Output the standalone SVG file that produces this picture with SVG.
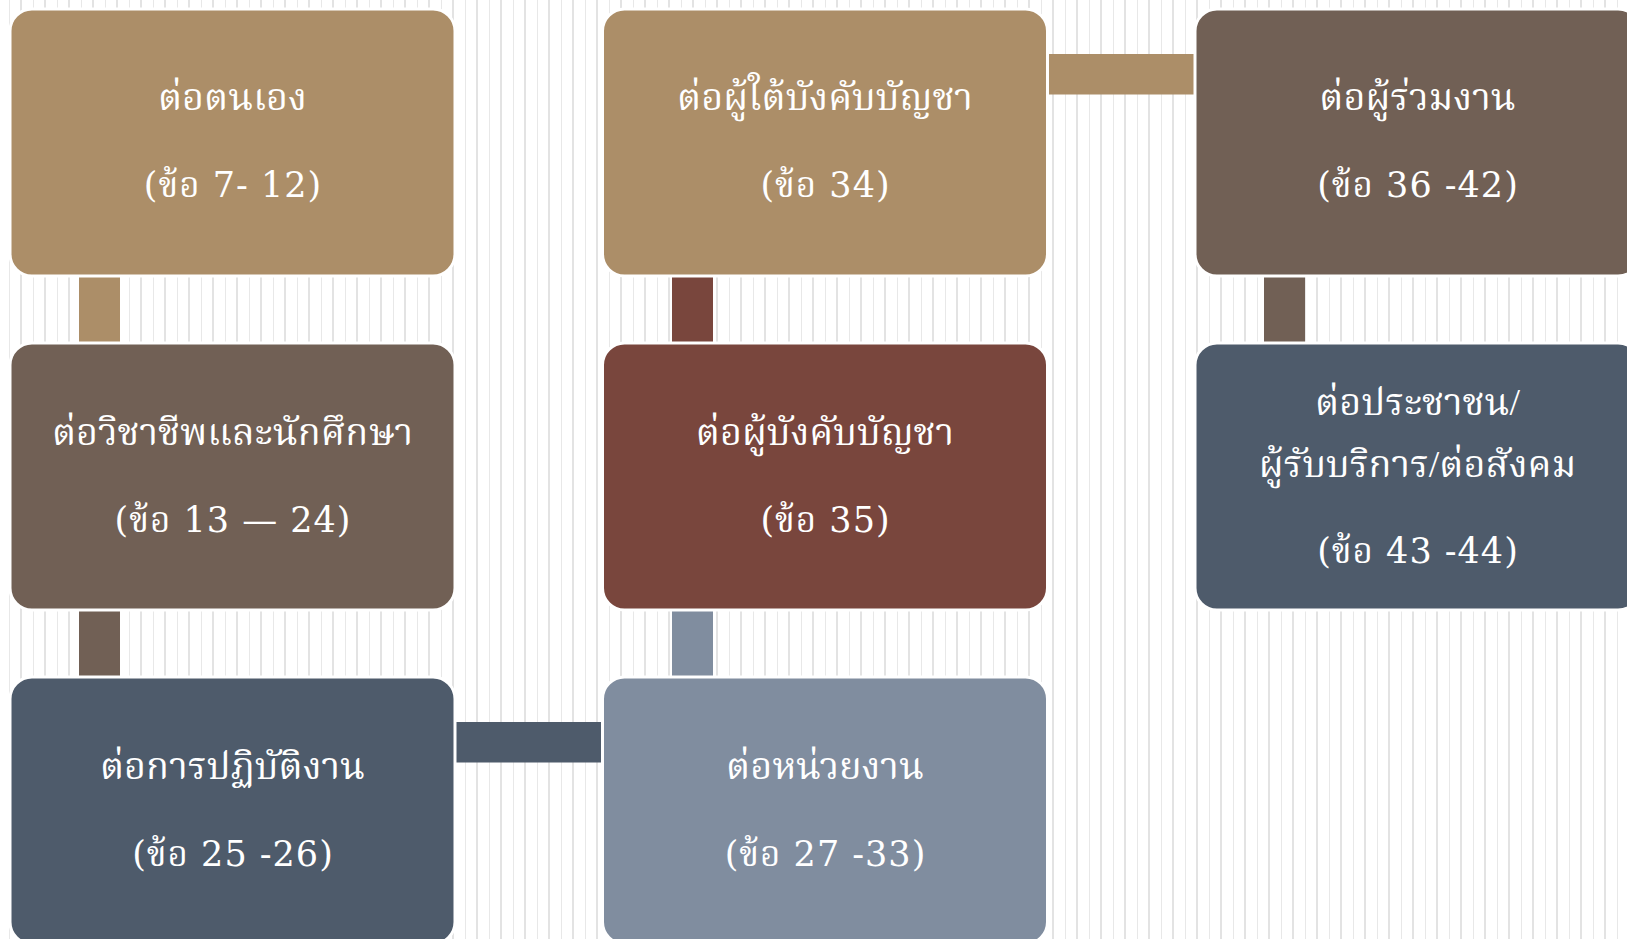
<svg xmlns="http://www.w3.org/2000/svg" width="1627" height="939" viewBox="0 0 1627 939">
  <defs>
    <pattern id="stripes" patternUnits="userSpaceOnUse" x="0" y="0" width="24" height="20">
      <rect x="9" y="0" width="1" height="20" fill="#E8E8E8"/>
      <rect x="20" y="0" width="2" height="20" fill="#E3E3E3"/>
    </pattern>
    <style>
      .box { stroke: #FFFFFF; stroke-width: 3; }
      .tan { fill: #AC8E68; }
      .brown { fill: #716055; }
      .red { fill: #79463D; }
      .slate { fill: #4E5B6B; }
      .steel { fill: #808D9F; }
      .lbl { font-family: "Liberation Serif", "Noto Serif Thai", "Norasi", "Tlwg Typo", "Noto Sans Thai", serif; font-size: 37.8px; fill: #FFFFFF; text-anchor: middle; }
      .num { font-family: "DejaVu Serif", "Noto Serif Thai", "Norasi", serif; font-size: 35px; letter-spacing: 1px; fill: #FFFFFF; text-anchor: middle; }
    </style>
  </defs>
  <rect x="0" y="0" width="1627" height="939" fill="#FFFFFF"/>
  <rect x="0" y="0" width="1627" height="939" fill="url(#stripes)"/>

  <g id="connectors">
    <rect class="tan" x="79" y="274" width="41" height="72"/>
    <rect class="brown" x="79" y="608" width="41" height="72"/>
    <rect class="red" x="672" y="274" width="41" height="72"/>
    <rect class="steel" x="672" y="608" width="41" height="72"/>
    <rect class="brown" x="1264" y="274" width="41" height="72"/>
    <rect class="tan" x="1044" y="54" width="154" height="40.5"/>
    <rect class="slate" x="452" y="722" width="154" height="40.5"/>
  </g>

  <g id="node-self">
    <rect class="box tan" x="10" y="9" width="445" height="267" rx="22"/>
    <text class="lbl" x="232.5" y="110">ต่อตนเอง</text>
    <text class="num" x="233" y="197">(ข้อ 7- 12)</text>
  </g>
  <g id="node-profession">
    <rect class="box brown" x="10" y="343" width="445" height="267" rx="22"/>
    <text class="lbl" x="232.5" y="444.5">ต่อวิชาชีพและนักศึกษา</text>
    <text class="num" x="233" y="531.5">(ข้อ 13 — 24)</text>
  </g>
  <g id="node-practice">
    <rect class="box slate" x="10" y="677" width="445" height="267" rx="22"/>
    <text class="lbl" x="232.5" y="778.5">ต่อการปฏิบัติงาน</text>
    <text class="num" x="233" y="865.5">(ข้อ 25 -26)</text>
  </g>
  <g id="node-agency">
    <rect class="box steel" x="602.5" y="677" width="445" height="267" rx="22"/>
    <text class="lbl" x="825" y="778.5">ต่อหน่วยงาน</text>
    <text class="num" x="825.5" y="865.5">(ข้อ 27 -33)</text>
  </g>
  <g id="node-superior">
    <rect class="box red" x="602.5" y="343" width="445" height="267" rx="22"/>
    <text class="lbl" x="825" y="444.5">ต่อผู้บังคับบัญชา</text>
    <text class="num" x="825.5" y="531.5">(ข้อ 35)</text>
  </g>
  <g id="node-subordinate">
    <rect class="box tan" x="602.5" y="9" width="445" height="267" rx="22"/>
    <text class="lbl" x="825" y="110">ต่อผู้ใต้บังคับบัญชา</text>
    <text class="num" x="825.5" y="197">(ข้อ 34)</text>
  </g>
  <g id="node-colleague">
    <rect class="box brown" x="1195" y="9" width="445" height="267" rx="22"/>
    <text class="lbl" x="1417.5" y="110">ต่อผู้ร่วมงาน</text>
    <text class="num" x="1418" y="197">(ข้อ 36 -42)</text>
  </g>
  <g id="node-public">
    <rect class="box slate" x="1195" y="343" width="445" height="267" rx="22"/>
    <text class="lbl" x="1417.5" y="415">ต่อประชาชน/</text>
    <text class="lbl" x="1417.5" y="477">ผู้รับบริการ/ต่อสังคม</text>
    <text class="num" x="1418" y="563">(ข้อ 43 -44)</text>
  </g>
</svg>
